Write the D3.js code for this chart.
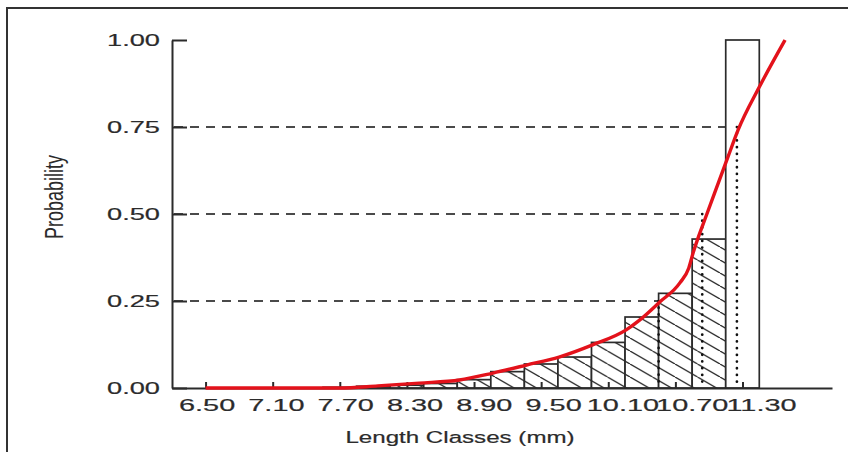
<!DOCTYPE html>
<html>
<head>
<meta charset="utf-8">
<script src="https://cdn.jsdelivr.net/npm/d3@7"></script>
<style>
  html, body { margin: 0; padding: 0; background: #fff; }
  svg { display: block; }
</style>
</head>
<body>
<svg id="chart" width="848" height="452"></svg>
<script>
// Length class midpoints (mm) and cumulative capture probability per class
const classMids = [7.70, 8.00, 8.30, 8.60, 8.90, 9.20, 9.50, 9.80, 10.10, 10.40, 10.70, 11.00, 11.30];
const classProb = [0.002, 0.005, 0.008, 0.013, 0.024, 0.047, 0.069, 0.089, 0.131, 0.204, 0.272, 0.428, 1.00];
const classWidth = 0.30;

// Fitted probability-of-capture curve
const curveLen  = [6.50, 7.10, 7.70, 8.04, 8.41, 8.77, 9.07, 9.37, 9.66, 9.96, 10.26, 10.38, 10.56, 10.74, 10.82, 10.86, 10.91, 10.97, 11.17, 11.26, 11.45, 11.68];
const curveProb = [0.000, 0.000, 0.000, 0.006, 0.014, 0.023, 0.043, 0.066, 0.089, 0.124, 0.167, 0.195, 0.247, 0.302, 0.345, 0.390, 0.438, 0.490, 0.664, 0.741, 0.865, 1.000];

// Lengths at which 25 %, 50 % and 75 % of fish are retained
const levelProb = [0.25, 0.50, 0.75];
const levelLen  = [10.55, 10.94, 11.25];

// Axis tick values and labels
const xTicks = [6.50, 7.10, 7.70, 8.30, 8.90, 9.50, 10.10, 10.70, 11.30];
const yTicks = [0.00, 0.25, 0.50, 0.75, 1.00];
const xTitle = "Length Classes (mm)";
const yTitle = "Probability";

const svg = d3.select("#chart");
const FONT = "'Liberation Sans', Arial, sans-serif";
const INK = "#2b2b2b";
const X_TEXT_SX = 1.7;   // horizontal stretch of the x tick lettering
const Y_TEXT_SX = 1.6;   // horizontal stretch of the y tick lettering

const x = d3.scaleLinear().domain([6.2, 12.1]).range([172, 832]);
const y = d3.scaleLinear().domain([0, 1]).range([388, 40]);
// Tick labels are laid out on a slightly wider grid than the tick marks
const xLabel = d3.scaleLinear().domain([6.5, 11.3]).range([206.6, 761]);

// Page frame (top and left edge)
svg.append("path")
  .attr("d", "M7,452 V8 H848")
  .attr("fill", "none")
  .attr("stroke", "#333")
  .attr("stroke-width", 2);

// Diagonal hatching for the class bars
const hatchH = 13, hatchW = 22.5;
const defs = svg.append("defs");
const pat = defs.append("pattern")
  .attr("id", "hatch")
  .attr("patternUnits", "userSpaceOnUse")
  .attr("width", hatchW)
  .attr("height", hatchH);
pat.append("rect").attr("width", hatchW).attr("height", hatchH).attr("fill", "#fff");
pat.append("path")
  .attr("d", `M0,0 L${hatchW},${hatchH} M${-hatchW},0 L0,${hatchH} M${hatchW},0 L${2 * hatchW},${hatchH}`)
  .attr("stroke", INK)
  .attr("stroke-width", 1.3);

// Dashed guide lines from the axis to the curve at 0.25 / 0.50 / 0.75
svg.append("g").selectAll("line")
  .data(levelProb)
  .join("line")
  .attr("x1", x(6.2) + 2)
  .attr("x2", (d, i) => x(levelLen[i]))
  .attr("y1", d => y(d))
  .attr("y2", d => y(d))
  .attr("stroke", "#4a4a4a")
  .attr("stroke-width", 2)
  .attr("stroke-dasharray", "9,7");

// Class bars
const bars = classMids.map((m, i) => ({ mid: m, p: classProb[i] }));
svg.append("g").selectAll("rect")
  .data(bars)
  .join("rect")
  .attr("x", d => x(d.mid - classWidth / 2))
  .attr("width", d => x(d.mid + classWidth / 2) - x(d.mid - classWidth / 2))
  .attr("y", d => y(d.p))
  .attr("height", d => y(0) - y(d.p))
  .attr("fill", d => d.p >= 1 ? "#fff" : "url(#hatch)")
  .attr("stroke", INK)
  .attr("stroke-width", 1.7);

// Dotted drop lines at L25, L50, L75
svg.append("g").selectAll("line")
  .data(levelProb)
  .join("line")
  .attr("x1", (d, i) => x(levelLen[i]))
  .attr("x2", (d, i) => x(levelLen[i]))
  .attr("y1", d => y(d))
  .attr("y2", y(0))
  .attr("stroke", "#111")
  .attr("stroke-width", 2.7)
  .attr("stroke-linecap", "round")
  .attr("stroke-dasharray", "0.1,6.6");

// Axes: tick marks on the data scale, labels on the label grid
const xAxis = d3.axisBottom(x)
  .tickValues(xTicks)
  .tickFormat("")
  .tickSizeInner(-6)
  .tickSizeOuter(0);
const xLabelAxis = d3.axisBottom(xLabel)
  .tickValues(xTicks)
  .tickFormat(d3.format(".2f"))
  .tickSize(0)
  .tickPadding(11);
const yAxis = d3.axisLeft(y)
  .tickValues(yTicks)
  .tickFormat(d3.format(".2f"))
  .tickSizeInner(-15)
  .tickSizeOuter(0)
  .tickPadding(12);

const gx = svg.append("g").attr("transform", `translate(0,${y(0)})`).call(xAxis);
const gxl = svg.append("g").attr("transform", `translate(0,${y(0)})`).call(xLabelAxis);
gxl.select(".domain").remove();
const gy = svg.append("g").attr("transform", `translate(${x(6.2)},0)`).call(yAxis);

[gx, gy].forEach(g => {
  g.select(".domain").attr("stroke", INK).attr("stroke-width", 2);
  g.selectAll(".tick line").attr("stroke", INK).attr("stroke-width", 2);
});
[gxl, gy].forEach(g => {
  g.selectAll(".tick text")
    .attr("fill", INK)
    .attr("stroke", INK)
    .attr("stroke-width", 0.2)
    .attr("font-family", FONT)
    .attr("font-size", 17);
});
gxl.selectAll(".tick text").attr("transform", `scale(${X_TEXT_SX},1)`);
gy.selectAll(".tick text")
  .attr("x", 0)
  .attr("transform", `translate(-12,0) scale(${Y_TEXT_SX},1)`);

// Fitted curve
const pts = curveLen.map((l, i) => [l, curveProb[i]]);
svg.append("path")
  .datum(pts)
  .attr("fill", "none")
  .attr("stroke", "#e3121b")
  .attr("stroke-width", 3.4)
  .attr("stroke-linejoin", "round")
  .attr("d", d3.line().x(d => x(d[0])).y(d => y(d[1])).curve(d3.curveMonotoneX));

// Axis titles
svg.append("text")
  .attr("transform", `translate(460,443) scale(1.42,1)`)
  .attr("text-anchor", "middle")
  .attr("font-family", FONT)
  .attr("font-size", 17)
  .attr("fill", INK)
  .attr("stroke", INK)
  .attr("stroke-width", 0.2)
  .text(xTitle);

svg.append("text")
  .attr("transform", `translate(63,197) rotate(-90) scale(1,1.4)`)
  .attr("text-anchor", "middle")
  .attr("font-family", FONT)
  .attr("font-size", 18)
  .attr("fill", INK)
  .text(yTitle);
</script>
</body>
</html>
